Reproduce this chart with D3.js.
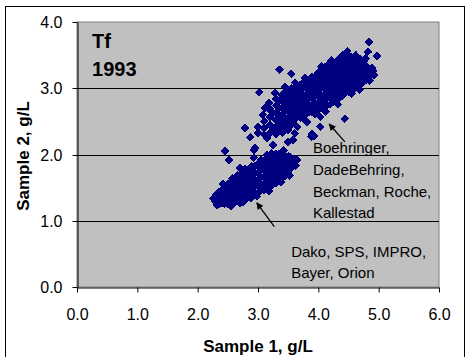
<!DOCTYPE html>
<html><head><meta charset="utf-8">
<script src="https://cdn.jsdelivr.net/npm/d3@7"></script>
<style>body{margin:0;background:#fff}svg{display:block}text{font-family:"Liberation Sans",Arial,sans-serif}</style>
</head><body>
<script>
// ---- data ----
const xTicks = [0, 1, 2, 3, 4, 5, 6];
const yTicks = [0, 1, 2, 3, 4];
const chartTitle = ["Tf", "1993"];
const xTitle = "Sample 1, g/L";
const yTitle = "Sample 2, g/L";
const noteUpper = ["Boehringer,", "DadeBehring,", "Beckman, Roche,", "Kallestad"];
const noteLower = ["Dako, SPS, IMPRO,", "Bayer, Orion"];

// upper cluster (Boehringer, DadeBehring, Beckman, Roche, Kallestad)
const upperCluster = [
[3.00,2.32],[3.00,2.42],
[3.10,2.30],[3.10,2.40],[3.10,2.50],
[3.20,2.33],[3.20,2.45],[3.20,2.57],[3.20,2.68],
[3.25,2.38],[3.25,2.62],
[3.30,2.31],[3.30,2.42],[3.30,2.52],[3.30,2.63],[3.30,2.74],[3.30,2.84],
[3.35,2.36],[3.35,2.47],[3.35,2.58],[3.35,2.70],[3.35,2.80],
[3.40,2.40],[3.40,2.50],[3.40,2.60],[3.40,2.70],[3.40,2.80],[3.40,2.90],
[3.45,2.45],[3.45,2.55],[3.45,2.65],[3.45,2.75],[3.45,2.85],[3.45,2.94],
[3.50,2.46],[3.50,2.56],[3.50,2.66],[3.50,2.76],[3.50,2.86],[3.50,2.96],
[3.55,2.51],[3.55,2.61],[3.55,2.71],[3.55,2.81],[3.55,2.91],[3.55,3.00],
[3.60,2.52],[3.60,2.62],[3.60,2.72],[3.60,2.82],[3.60,2.92],[3.60,3.01],
[3.65,2.57],[3.65,2.67],[3.65,2.77],[3.65,2.87],[3.65,2.97],[3.65,3.03],
[3.70,2.56],[3.70,2.66],[3.70,2.76],[3.70,2.86],[3.70,2.96],[3.70,3.05],
[3.75,2.60],[3.75,2.70],[3.75,2.80],[3.75,2.90],[3.75,3.00],[3.75,3.08],
[3.80,2.61],[3.80,2.71],[3.80,2.81],[3.80,2.91],[3.80,3.01],[3.80,3.10],
[3.85,2.65],[3.85,2.75],[3.85,2.85],[3.85,2.95],[3.85,3.05],[3.85,3.13],
[3.90,2.64],[3.90,2.74],[3.90,2.84],[3.90,2.94],[3.90,3.04],[3.90,3.14],[3.90,3.17],
[3.95,2.68],[3.95,2.78],[3.95,2.88],[3.95,2.98],[3.95,3.08],[3.95,3.18],
[4.00,2.67],[4.00,2.77],[4.00,2.87],[4.00,2.97],[4.00,3.07],[4.00,3.17],[4.00,3.23],
[4.05,2.70],[4.05,2.80],[4.05,2.90],[4.05,3.00],[4.05,3.10],[4.05,3.20],[4.05,3.28],
[4.10,2.71],[4.10,2.81],[4.10,2.91],[4.10,3.01],[4.10,3.11],[4.10,3.21],[4.10,3.31],
[4.15,2.75],[4.15,2.85],[4.15,2.95],[4.15,3.05],[4.15,3.15],[4.15,3.25],[4.15,3.34],
[4.20,2.76],[4.20,2.86],[4.20,2.96],[4.20,3.06],[4.20,3.16],[4.20,3.26],[4.20,3.36],
[4.25,2.80],[4.25,2.90],[4.25,3.00],[4.25,3.10],[4.25,3.20],[4.25,3.30],[4.25,3.39],
[4.30,2.81],[4.30,2.91],[4.30,3.01],[4.30,3.11],[4.30,3.21],[4.30,3.31],[4.30,3.41],
[4.35,2.86],[4.35,2.96],[4.35,3.06],[4.35,3.16],[4.35,3.26],[4.35,3.36],[4.35,3.45],
[4.40,2.89],[4.40,2.99],[4.40,3.09],[4.40,3.19],[4.40,3.29],[4.40,3.39],[4.40,3.49],
[4.45,2.93],[4.45,3.03],[4.45,3.13],[4.45,3.23],[4.45,3.33],[4.45,3.43],[4.45,3.52],
[4.50,2.95],[4.50,3.05],[4.50,3.15],[4.50,3.25],[4.50,3.35],[4.50,3.45],[4.50,3.50],
[4.55,2.99],[4.55,3.09],[4.55,3.19],[4.55,3.29],[4.55,3.39],[4.55,3.47],
[4.60,3.00],[4.60,3.10],[4.60,3.20],[4.60,3.30],[4.60,3.40],[4.60,3.45],
[4.65,3.04],[4.65,3.14],[4.65,3.24],[4.65,3.34],[4.65,3.44],
[4.70,3.06],[4.70,3.16],[4.70,3.26],[4.70,3.36],[4.70,3.43],
[4.75,3.10],[4.75,3.20],[4.75,3.30],[4.75,3.40],
[4.80,3.13],[4.80,3.23],[4.80,3.33],
[4.85,3.19],[4.85,3.29],
[4.90,3.26],
// edge points
[3.28,2.93],[3.45,3.02],[3.62,3.08],[3.78,3.15],[4.05,3.33],[4.22,3.42],[4.48,3.56],
[4.62,3.50],[4.78,3.45],[4.92,3.20],[4.85,3.12],[4.68,2.98],[4.55,2.92],[4.32,2.76],
[4.12,2.65],[3.95,2.61],[3.75,2.55],[3.55,2.45],[3.40,2.33],[3.15,2.25],[3.08,2.60],
[3.18,2.78],[3.12,2.70],
// scattered
[3.36,3.28],[3.55,3.22],[3.02,2.94],[2.78,2.40],[2.87,2.26],[3.25,2.14],
[3.50,2.19],[3.50,2.37],[3.58,2.48],[3.58,2.22],[3.61,2.32],[3.65,2.42],[3.81,2.49],
[4.03,2.57],[4.03,2.42],[4.44,2.54],[3.88,2.27],[3.93,2.28],[3.90,2.31],
[3.20,2.67],[4.84,3.70],[4.82,3.55],[4.97,3.49],[4.89,3.31],[4.72,3.09],[4.77,3.17],
[2.95,2.10]
];

// lower cluster (Dako, SPS, IMPRO, Bayer, Orion)
const lowerCluster = [
[2.30,1.29],[2.30,1.39],
[2.35,1.33],[2.35,1.43],
[2.40,1.27],[2.40,1.37],[2.40,1.47],
[2.45,1.26],[2.45,1.32],[2.45,1.42],[2.45,1.51],
[2.50,1.25],[2.50,1.35],[2.50,1.45],[2.50,1.55],
[2.55,1.30],[2.55,1.40],[2.55,1.50],[2.55,1.58],
[2.60,1.27],[2.60,1.37],[2.60,1.47],[2.60,1.57],
[2.65,1.32],[2.65,1.42],[2.65,1.52],[2.65,1.62],
[2.70,1.30],[2.70,1.40],[2.70,1.50],[2.70,1.60],[2.70,1.67],
[2.75,1.34],[2.75,1.44],[2.75,1.54],[2.75,1.64],[2.75,1.72],
[2.80,1.33],[2.80,1.43],[2.80,1.53],[2.80,1.63],[2.80,1.73],
[2.85,1.38],[2.85,1.48],[2.85,1.58],[2.85,1.68],[2.85,1.78],
[2.90,1.37],[2.90,1.47],[2.90,1.57],[2.90,1.67],[2.90,1.77],[2.90,1.82],
[2.95,1.42],[2.95,1.52],[2.95,1.62],[2.95,1.72],[2.95,1.82],
[3.00,1.42],[3.00,1.52],[3.00,1.62],[3.00,1.72],[3.00,1.82],[3.00,1.86],
[3.05,1.46],[3.05,1.56],[3.05,1.66],[3.05,1.76],[3.05,1.86],
[3.10,1.46],[3.10,1.56],[3.10,1.66],[3.10,1.76],[3.10,1.86],[3.10,1.90],
[3.15,1.50],[3.15,1.60],[3.15,1.70],[3.15,1.80],[3.15,1.90],
[3.20,1.51],[3.20,1.61],[3.20,1.71],[3.20,1.81],[3.20,1.91],[3.20,1.96],
[3.25,1.55],[3.25,1.65],[3.25,1.75],[3.25,1.85],[3.25,1.95],
[3.30,1.57],[3.30,1.67],[3.30,1.77],[3.30,1.87],[3.30,1.97],[3.30,2.01],
[3.35,1.62],[3.35,1.72],[3.35,1.82],[3.35,1.92],[3.35,2.01],
[3.40,1.64],[3.40,1.74],[3.40,1.84],[3.40,1.94],[3.40,2.00],
[3.45,1.68],[3.45,1.78],[3.45,1.88],[3.45,1.98],
[3.50,1.72],[3.50,1.82],[3.50,1.92],[3.50,1.97],
[3.55,1.80],[3.55,1.90],
[3.60,1.87],[3.60,1.93],
[3.65,1.92],
// edge points
[2.58,1.64],[2.78,1.78],[3.05,1.92],[3.22,2.02],[3.42,2.06],[3.62,1.83],[3.52,1.68],
[3.38,1.58],[3.18,1.45],[2.98,1.37],[2.75,1.28],[2.55,1.22],[2.36,1.25],[2.26,1.33],
[2.42,1.55],[2.66,1.69],
// scattered
[2.45,2.05],[2.52,1.92],[2.93,2.07],[2.93,1.95],[3.15,1.99],[2.70,1.80],
[2.70,1.27],[2.88,1.34],[2.32,1.24],[3.53,1.96]
];

// ---- layout ----
const W = 472, H = 357;
const plot = {left: 77, right: 439, top: 22, bottom: 287};
const x = d3.scaleLinear().domain([0, 6]).range([plot.left, plot.right]);
const y = d3.scaleLinear().domain([0, 4]).range([plot.bottom, plot.top]);
const fontFam = '"Liberation Sans", Arial, sans-serif';

const svg = d3.select("body").append("svg").attr("width", W).attr("height", H);

// outer chart frame
svg.append("rect").attr("x", 5.5).attr("y", 6.5).attr("width", 459).attr("height", 400)
  .attr("fill", "#fff").attr("stroke", "#000").attr("stroke-width", 1);

// plot background
svg.append("rect").attr("x", plot.left).attr("y", plot.top)
  .attr("width", plot.right - plot.left).attr("height", plot.bottom - plot.top)
  .attr("fill", "#c0c0c0").attr("stroke", "#808080").attr("stroke-width", 1);

// gridlines
svg.append("g").selectAll("line").data(yTicks.filter(d => d > 0 && d < 4)).join("line")
  .attr("x1", plot.left).attr("x2", plot.right)
  .attr("y1", d => Math.round(y(d)) + 0.5).attr("y2", d => Math.round(y(d)) + 0.5)
  .attr("stroke", "#000").attr("stroke-width", 1);

// points
const diamond = "M0,-4.4L4.4,0L0,4.4L-4.4,0Z";
const pts = svg.append("g").attr("shape-rendering", "crispEdges");
pts.selectAll("path.u").data(upperCluster).join("path").attr("class", "u")
  .attr("d", diamond).attr("fill", "#000080")
  .attr("transform", d => `translate(${x(d[0])},${y(d[1])})`);
pts.selectAll("path.l").data(lowerCluster).join("path").attr("class", "l")
  .attr("d", diamond).attr("fill", "#000080")
  .attr("transform", d => `translate(${x(d[0])},${y(d[1])})`);

// axes
const fmt = d3.format(".1f");
const yAxis = svg.append("g").attr("transform", `translate(${plot.left + 0.5},0)`)
  .call(d3.axisLeft(y).tickValues(yTicks).tickFormat(fmt).tickSize(5).tickSizeOuter(0).tickPadding(10));
const xAxis = svg.append("g").attr("transform", `translate(0,${plot.bottom + 0.5})`)
  .call(d3.axisBottom(x).tickValues(xTicks).tickFormat(fmt).tickSize(5).tickSizeOuter(0).tickPadding(16));
[yAxis, xAxis].forEach(a => {
  a.select(".domain").attr("stroke", "#000");
  a.selectAll(".tick line").attr("stroke", "#000");
  a.selectAll(".tick text").attr("font-family", fontFam).attr("font-size", 16).attr("fill", "#000");
});
yAxis.selectAll(".tick").attr("transform", d => `translate(0,${Math.round(y(d)) + 0.5})`);

// axis titles
svg.append("text").attr("x", (plot.left + plot.right) / 2).attr("y", 352)
  .attr("text-anchor", "middle").attr("font-family", fontFam).attr("font-size", 17)
  .attr("font-weight", "bold").text(xTitle);
svg.append("text").attr("transform", "translate(29,156) rotate(-90)")
  .attr("text-anchor", "middle").attr("font-family", fontFam).attr("font-size", 17)
  .attr("font-weight", "bold").text(yTitle);

// chart title inside plot
svg.append("g").selectAll("text").data(chartTitle).join("text")
  .attr("x", x(0.25)).attr("y", (d, i) => y(3.61 - i * 0.43))
  .attr("font-family", fontFam).attr("font-size", 20).attr("font-weight", "bold").text(d => d);

// annotations
svg.append("g").selectAll("text").data(noteUpper).join("text")
  .attr("x", x(3.91)).attr("y", (d, i) => y(2.02 - i * 0.328))
  .attr("font-family", fontFam).attr("font-size", 15).attr("fill", "#000").text(d => d);
svg.append("g").selectAll("text").data(noteLower).join("text")
  .attr("x", x(3.55)).attr("y", (d, i) => y(0.45 - i * 0.31))
  .attr("font-family", fontFam).attr("font-size", 15).attr("fill", "#000").text(d => d);

// arrows
svg.append("defs").append("marker").attr("id", "ah").attr("viewBox", "0 0 10 10")
  .attr("refX", 9).attr("refY", 5).attr("markerWidth", 9).attr("markerHeight", 7)
  .attr("markerUnits", "userSpaceOnUse").attr("orient", "auto")
  .append("path").attr("d", "M0,0L10,5L0,10Z").attr("fill", "#000");
const arrows = [[4.44, 2.19, 4.18, 2.46], [3.27, 0.91, 2.98, 1.27]];
svg.append("g").selectAll("line").data(arrows).join("line")
  .attr("x1", d => x(d[0])).attr("y1", d => y(d[1]))
  .attr("x2", d => x(d[2])).attr("y2", d => y(d[3]))
  .attr("stroke", "#000").attr("stroke-width", 1.3).attr("marker-end", "url(#ah)");
</script>
</body></html>
